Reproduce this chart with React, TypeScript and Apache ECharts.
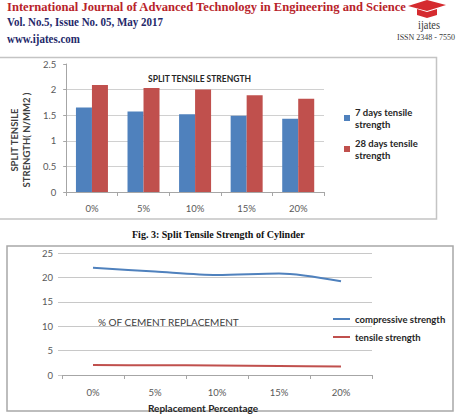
import React, { useEffect, useRef } from "react";
import * as echarts from "echarts";

// Replacement levels shared by both charts
const categories = ["0%", "5%", "10%", "15%", "20%"];

// Split tensile strength of cylinders (N/mm2)
const sevenDayTensile = [1.65, 1.57, 1.52, 1.49, 1.43];
const twentyEightDayTensile = [2.09, 2.03, 2.0, 1.89, 1.82];

// Compressive vs tensile strength (N/mm2)
const compressiveStrength = [22.0, 21.2, 20.5, 20.8, 19.2];
const tensileStrength = [2.05, 2.0, 1.97, 1.85, 1.75];

const barYTicks = { min: 0, max: 2.5, interval: 0.5 };
const lineYTicks = { min: 0, max: 25, interval: 5 };

const BLUE = "#4f81bd";
const RED = "#c0504d";
const SANS = "Lato, 'Open Sans', sans-serif";
const SERIF = "'Liberation Serif', 'DejaVu Serif', serif";

// horizontal scale that makes a string occupy a given width
function fitScale(text: string, font: string, width: number): number {
  const ctx = document.createElement("canvas").getContext("2d");
  if (!ctx) return 1;
  ctx.font = font;
  const w = ctx.measureText(text).width;
  return w > 0 ? width / w : 1;
}

function headerText(
  text: string,
  x: number,
  y: number,
  font: string,
  width: number,
  fill: string
) {
  return {
    type: "text",
    x,
    y,
    scaleX: fitScale(text, font, width),
    style: { text, font, fill, textVerticalAlign: "middle", verticalAlign: "middle" },
    silent: true,
  };
}

export default function App() {
  const ref = useRef<HTMLDivElement>(null);

  useEffect(() => {
    if (!ref.current) return;
    const chart = echarts.init(ref.current, null, { renderer: "svg" });

    const legendNames: Record<string, string> = {
      "7 days tensile strength": "7 days tensile\nstrength",
      "28 days tensile strength": "28 days tensile\nstrength",
    };

    chart.setOption({
      animation: false,
      backgroundColor: "#ffffff",
      title: [
        {
          text: "SPLIT TENSILE STRENGTH",
          left: 148,
          top: 74,
          padding: 0,
          textStyle: { fontFamily: SANS, fontSize: 8.5, fontWeight: "bold", color: "#262626" },
        },
        {
          text: "% OF CEMENT REPLACEMENT",
          left: 98,
          top: 317,
          padding: 0,
          textStyle: { fontFamily: SANS, fontSize: 10, fontWeight: "normal", color: "#404040" },
        },
      ],
      legend: [
        {
          data: ["7 days tensile strength", "28 days tensile strength"],
          orient: "vertical",
          left: 344,
          top: 100,
          padding: 0,
          itemGap: -5,
          itemWidth: 6,
          itemHeight: 6,
          icon: "rect",
          formatter: (name: string) => legendNames[name] || name,
          textStyle: {
            fontFamily: SANS,
            fontSize: 9.5,
            fontWeight: "bold",
            color: "#262626",
            lineHeight: 12,
            padding: [12, 0, 0, 0],
          },
        },
        {
          data: ["compressive strength", "tensile strength"],
          orient: "vertical",
          left: 333,
          top: 313,
          padding: 0,
          itemGap: 6,
          itemWidth: 17,
          itemHeight: 2,
          icon: "rect",
          textStyle: { fontFamily: SANS, fontSize: 9.5, fontWeight: "bold", color: "#262626", lineHeight: 12 },
        },
      ],
      grid: [
        { left: 43, top: 64, right: 134, bottom: 225, containLabel: false },
        { left: 62, top: 253, right: 86, bottom: 42, containLabel: false },
      ],
      xAxis: [
        {
          type: "category",
          gridIndex: 0,
          data: categories,
          axisLine: { lineStyle: { color: "#a6a6a6" } },
          axisTick: { show: true, length: 4, lineStyle: { color: "#a6a6a6" } },
          axisLabel: { color: "#595959", fontFamily: SANS, fontSize: 9.5, margin: 11 },
        },
        {
          type: "category",
          gridIndex: 1,
          data: categories,
          name: "Replacement Percentage",
          nameLocation: "middle",
          nameGap: 28,
          nameTextStyle: {
            fontFamily: SANS,
            fontSize: 10,
            fontWeight: "bold",
            color: "#262626",
            padding: [0, 28, 0, 0],
          },
          axisLine: { lineStyle: { color: "#a6a6a6" } },
          axisTick: { show: true, length: 4, lineStyle: { color: "#a6a6a6" } },
          axisLabel: { color: "#595959", fontFamily: SANS, fontSize: 9.5, margin: 12 },
        },
      ],
      yAxis: [
        {
          type: "value",
          gridIndex: 0,
          ...barYTicks,
          name: "SPLIT TENSILE\nSTRENGTH( N/MM2 )",
          nameLocation: "middle",
          nameRotate: 90,
          nameGap: 13,
          nameTextStyle: {
            fontFamily: SANS,
            fontSize: 9.5,
            fontWeight: "bold",
            color: "#404040",
            lineHeight: 12,
            padding: [0, 24, 0, 0],
          },
          axisLine: { show: true, lineStyle: { color: "#a6a6a6" } },
          axisTick: { show: true, length: 3, lineStyle: { color: "#a6a6a6" } },
          axisLabel: { color: "#595959", fontFamily: SANS, fontSize: 9.5, margin: 10 },
          splitLine: { show: true, showMaxLine: false, lineStyle: { color: "#d0d0d0" } },
        },
        {
          type: "value",
          gridIndex: 1,
          ...lineYTicks,
          axisLine: { show: false },
          axisTick: { show: true, length: 4, lineStyle: { color: "#c8c8c8" } },
          axisLabel: { color: "#595959", fontFamily: SANS, fontSize: 9.5, margin: 9 },
          splitLine: { show: true, lineStyle: { color: "#c8c8c8" } },
        },
      ],
      series: [
        {
          name: "7 days tensile strength",
          type: "bar",
          xAxisIndex: 0,
          yAxisIndex: 0,
          data: sevenDayTensile,
          barWidth: 16,
          barGap: "0%",
          itemStyle: { color: BLUE },
        },
        {
          name: "28 days tensile strength",
          type: "bar",
          xAxisIndex: 0,
          yAxisIndex: 0,
          data: twentyEightDayTensile,
          barWidth: 16,
          barGap: "0%",
          itemStyle: { color: RED },
        },
        {
          name: "compressive strength",
          type: "line",
          xAxisIndex: 1,
          yAxisIndex: 1,
          data: compressiveStrength,
          showSymbol: false,
          smooth: 0.3,
          itemStyle: { color: BLUE },
          lineStyle: { color: BLUE, width: 2 },
        },
        {
          name: "tensile strength",
          type: "line",
          xAxisIndex: 1,
          yAxisIndex: 1,
          data: tensileStrength,
          showSymbol: false,
          smooth: 0.3,
          itemStyle: { color: RED },
          lineStyle: { color: RED, width: 2 },
        },
      ],
      graphic: [
        // journal header
        headerText(
          "International Journal of Advanced Technology in Engineering and Science",
          7, 7, `bold 13px ${SERIF}`, 400, "#b8232a"
        ),
        headerText("Vol. No.5, Issue No. 05, May 2017", 7, 22, `bold 12px ${SERIF}`, 156, "#25296a"),
        headerText("www.ijates.com", 7, 38.5, `bold 12px ${SERIF}`, 73, "#25296a"),
        // mortarboard logo
        {
          type: "polygon",
          shape: { points: [[408, 6], [427, 0], [446, 5], [427, 11]] },
          style: { fill: "#d52b2f" },
          silent: true,
        },
        {
          type: "polygon",
          shape: { points: [[417, 9], [427, 12], [437, 9], [437, 15], [427, 18], [417, 15]] },
          style: { fill: "#d52b2f" },
          silent: true,
        },
        headerText("ijates", 418, 25, `12px ${SERIF}`, 22, "#3a3a3a"),
        headerText("ISSN 2348 - 7550", 397, 37.5, `8px ${SERIF}`, 58, "#3a3a3a"),
        // chart frames
        {
          type: "rect",
          shape: { x: -1, y: 57.5, width: 437.5, height: 161.5 },
          style: { fill: "none", stroke: "#c4c4c4", lineWidth: 1.5 },
          silent: true,
        },
        {
          type: "rect",
          shape: { x: 7, y: 246, width: 446, height: 165 },
          style: { fill: "none", stroke: "#a8a8a8", lineWidth: 1.5 },
          silent: true,
        },
        // figure caption
        headerText("Fig. 3: Split Tensile Strength of Cylinder", 132, 234.5, `bold 10px ${SERIF}`, 173, "#111111"),
      ],
    });

    return () => chart.dispose();
  }, []);

  return (
    <div
      ref={ref}
      style={{ position: "absolute", left: 0, top: 0, width: 458, height: 417 }}
    />
  );
}
